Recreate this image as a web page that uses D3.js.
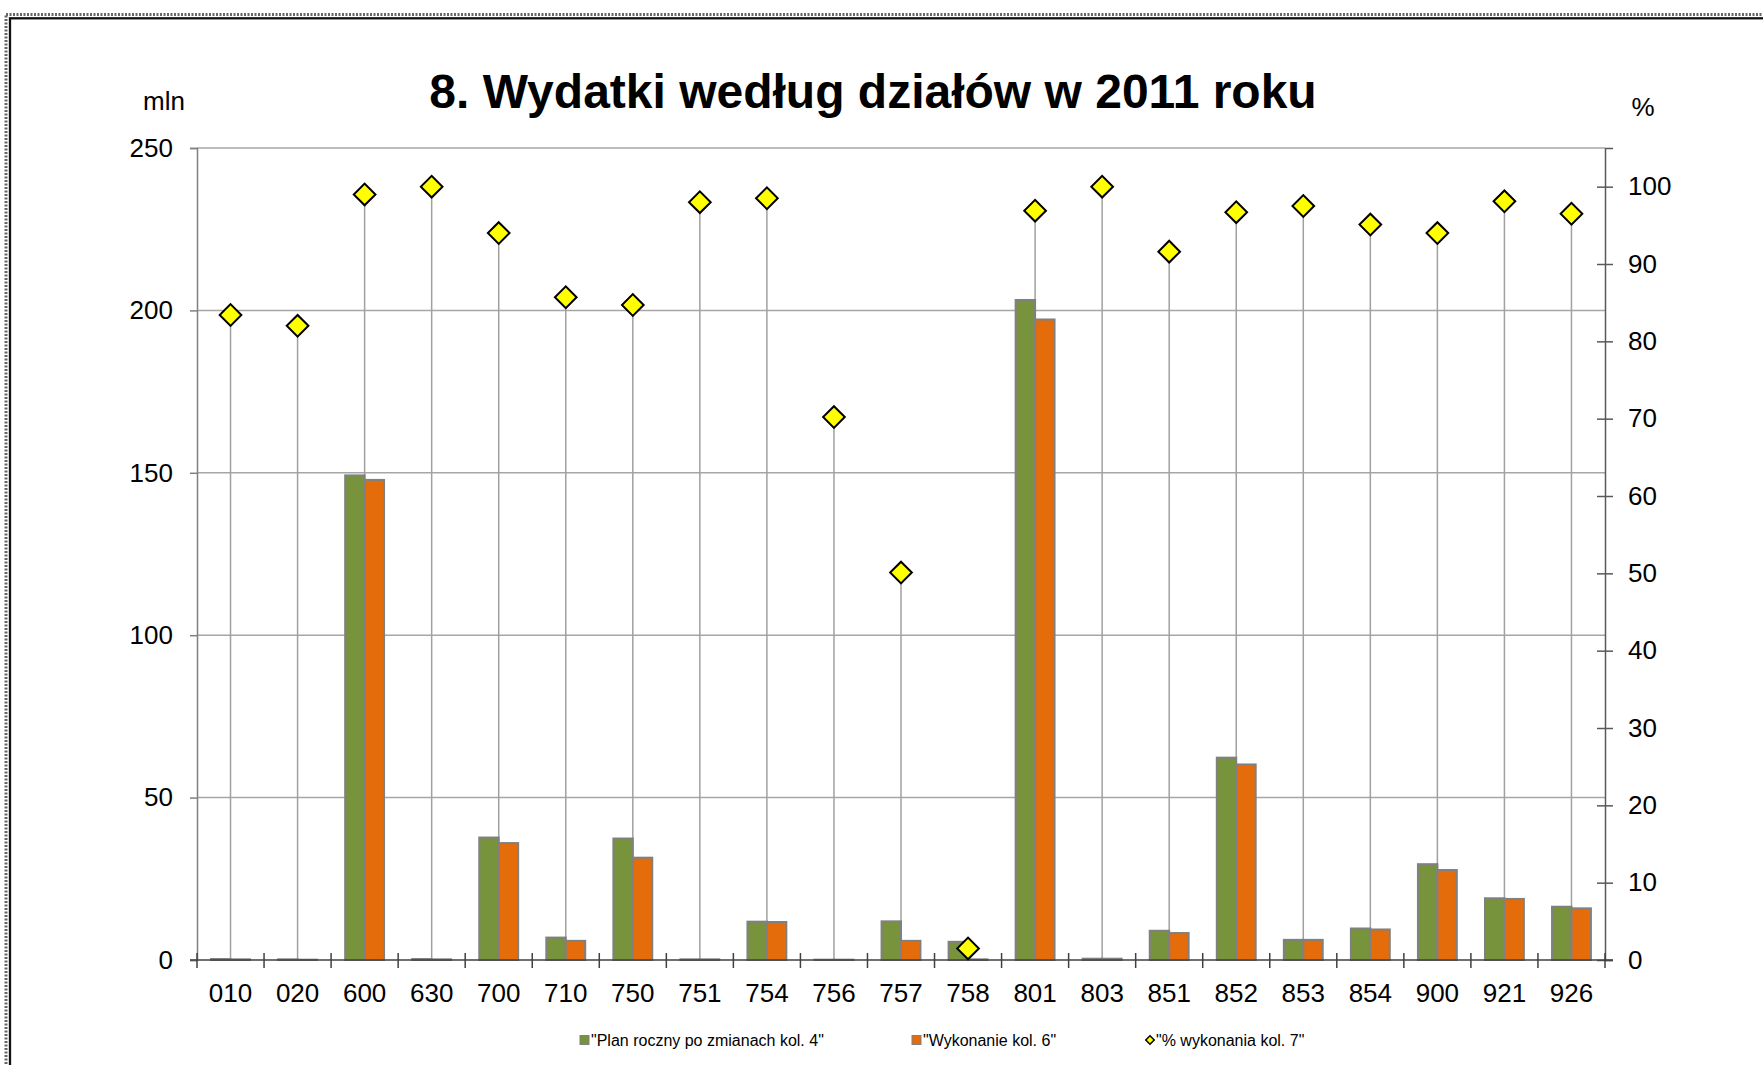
<!DOCTYPE html>
<html>
<head>
<meta charset="utf-8">
<script src="https://cdn.jsdelivr.net/npm/d3@7/dist/d3.min.js"></script>
<style>
body{
margin:0;
background-color:white;
font-family:"Liberation Sans",Arial,sans-serif;
}
</style>
</head>
<body>
<div id="chart"></div>
<script>
// dzialy budzetu
var categories = ["010","020","600","630","700","710","750","751","754","756","757","758","801","803","851","852","853","854","900","921","926"]
// plan roczny po zmianach (mln)
var plan = [0.3,0.2,149.2,0.3,37.7,6.9,37.4,0.2,11.8,0.1,11.9,5.6,203.2,0.4,9.0,62.3,6.2,9.7,29.5,19.0,16.4]
// wykonanie (mln)
var wykonanie = [0.2,0.1,147.8,0.2,36.0,5.9,31.5,0.2,11.7,0.1,5.9,0.2,197.2,0.4,8.3,60.2,6.2,9.4,27.7,18.8,15.9]
// % wykonania
var procent = [83.4,82.0,99.0,100,94.0,85.7,84.7,98.0,98.5,70.2,50.1,1.5,96.9,100,91.6,96.7,97.5,95.1,94.0,98.1,96.5]

var leftTicks = [0,50,100,150,200,250]
var rightTicks = [0,10,20,30,40,50,60,70,80,90,100]
var seriesNames = ["\"Plan roczny po zmianach kol. 4\"","\"Wykonanie kol. 6\"","\"% wykonania kol. 7\""]

var W = 1763, H = 1065
var plotL = 197, plotR = 1605, plotT = 148, plotB = 960
var greenColor = "#77933c"
var orangeColor = "#e46c0a"
var barStroke = "#808080"
var gridColor = "#a6a6a6"

var svg = d3.select("#chart")
.append("svg")
.attr("width",W)
.attr("height",H)
.style("display","block")

// ramka
svg.append("rect")
.attr("x",6).attr("y",14.5)
.attr("width",W+20).attr("height",H+20)
.attr("fill","none")
.attr("stroke","#666")
.attr("stroke-width",3)
.attr("stroke-dasharray","2,1.5")
svg.append("rect")
.attr("x",10).attr("y",18.3)
.attr("width",W+20).attr("height",H+20)
.attr("fill","none")
.attr("stroke","#111")
.attr("stroke-width",2.3)

var x = d3.scaleBand().domain(categories).range([plotL,plotR]).padding(0)
var xSub = d3.scaleBand().domain([0,1]).range([x.bandwidth()*0.21,x.bandwidth()*0.79])
var y = d3.scaleLinear().domain([0,250]).range([plotB,plotT])
var y2 = d3.scaleLinear().domain([0,105]).range([plotB,plotT])

// linie siatki poziome
svg.selectAll(".hgrid")
.data(leftTicks.slice(1))
.enter()
.append("line")
.attr("class","hgrid")
.attr("x1",plotL).attr("x2",plotR)
.attr("y1",function(d){return y(d)})
.attr("y2",function(d){return y(d)})
.attr("stroke",gridColor)
.attr("stroke-width",1.5)

// linie spadku od znacznikow
svg.selectAll(".drop")
.data(procent)
.enter()
.append("line")
.attr("class","drop")
.attr("x1",function(d,i){return x(categories[i])+x.bandwidth()/2})
.attr("x2",function(d,i){return x(categories[i])+x.bandwidth()/2})
.attr("y1",function(d){return y2(d)})
.attr("y2",plotB)
.attr("stroke","#a0a0a0")
.attr("stroke-width",1.5)

// slupki
var series = [plan,wykonanie]
var colors = [greenColor,orangeColor]
for(var s=0;s<2;s++){
svg.selectAll(".bar"+s)
.data(series[s])
.enter()
.append("rect")
.attr("class","bar"+s)
.attr("x",function(d,i){return x(categories[i])+xSub(s)})
.attr("width",xSub.bandwidth())
.attr("y",function(d){return y(d)})
.attr("height",function(d){return plotB-y(d)})
.attr("fill",colors[s])
.attr("stroke",barStroke)
.attr("stroke-width",2)
}

// osie
var leftAxis = svg.append("g")
.attr("transform","translate("+plotL+",0)")
.call(d3.axisLeft(y).tickValues(leftTicks).tickSize(7).tickPadding(17))
leftAxis.select(".domain").attr("stroke","#808080").attr("stroke-width",1.5)
leftAxis.selectAll(".tick line").attr("stroke","#808080").attr("stroke-width",1.5)

var rightAxis = svg.append("g")
.attr("transform","translate("+plotR+",0)")
.call(d3.axisRight(y2).tickValues(rightTicks).tickSize(8).tickPadding(15))
rightAxis.select(".domain").attr("stroke","#595959").attr("stroke-width",1.5)
rightAxis.selectAll(".tick line").attr("x1",-8).attr("stroke","#595959").attr("stroke-width",1.5)

var bottomAxis = svg.append("g")
.attr("transform","translate(0,"+plotB+")")
.call(d3.axisBottom(x).tickSize(0).tickPadding(23.5))
bottomAxis.select(".domain").remove()

svg.selectAll(".xtick")
.data(categories.concat(["end"]))
.enter()
.append("line")
.attr("class","xtick")
.attr("x1",function(d){return d=="end"?plotR:x(d)})
.attr("x2",function(d){return d=="end"?plotR:x(d)})
.attr("y1",plotB-7).attr("y2",plotB+8)
.attr("stroke","#404040")
.attr("stroke-width",1.5)
svg.append("line")
.attr("x1",plotL-7).attr("x2",plotR+8)
.attr("y1",plotB).attr("y2",plotB)
.attr("stroke","#404040")
.attr("stroke-width",1.5)

svg.selectAll(".tick text")
.attr("font-family","'Liberation Sans',Arial,sans-serif")
.attr("font-size",26)
.attr("fill","#000")

// znaczniki %
svg.selectAll(".pct")
.data(procent)
.enter()
.append("path")
.attr("class","pct")
.attr("d",d3.symbol(d3.symbolSquare,235))
.attr("transform",function(d,i){
return "translate("+(x(categories[i])+x.bandwidth()/2)+","+y2(d)+") rotate(45)"
})
.attr("fill","#ffff00")
.attr("stroke","#000")
.attr("stroke-width",2)

// tytul i jednostki
svg.append("text")
.text("8. Wydatki według działów w 2011 roku")
.attr("x",873).attr("y",108)
.attr("text-anchor","middle")
.attr("font-size",48)
.attr("font-weight","bold")
svg.append("text")
.text("mln")
.attr("x",164).attr("y",110)
.attr("text-anchor","middle")
.attr("font-size",26)
svg.append("text")
.text("%")
.attr("x",1643).attr("y",116)
.attr("text-anchor","middle")
.attr("font-size",26)

// legenda
var legendY = 1040
var legendX = [580,912,1146]
var legend = svg.selectAll(".legend")
.data(seriesNames)
.enter()
.append("g")
.attr("class","legend")
.attr("transform",function(d,i){return "translate("+legendX[i]+","+legendY+")"})
legend.each(function(d,i){
var g = d3.select(this)
if(i<2){
g.append("rect")
.attr("x",0).attr("y",-4.5)
.attr("width",9).attr("height",9)
.attr("fill",colors[i])
.attr("stroke",barStroke)
.attr("stroke-width",1)
} else {
g.append("path")
.attr("d",d3.symbol(d3.symbolSquare,36))
.attr("transform","translate(4,0) rotate(45)")
.attr("fill","#ffff00")
.attr("stroke","#000")
.attr("stroke-width",1.5)
}
g.append("text")
.text(d)
.attr("x",i<2?11:10)
.attr("y",6)
.attr("font-size",16)
})
</script>
</body>
</html>
